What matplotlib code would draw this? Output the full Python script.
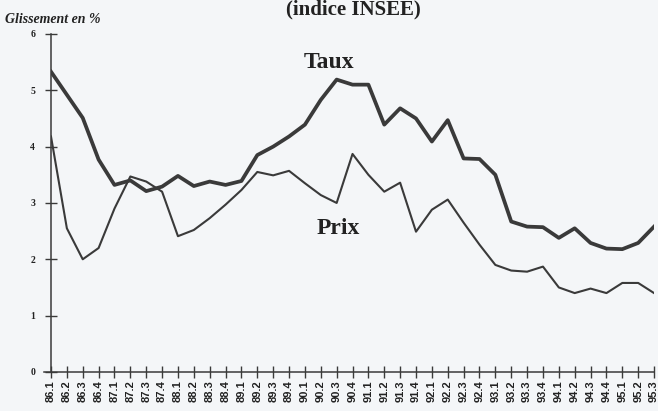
import matplotlib.pyplot as plt

# Trimestres 86.1 -> 95.3
quarters = [f"{y}.{q}" for y in range(86, 96) for q in range(1, 5)][:39]

taux = [5.33, 4.92, 4.51, 3.77, 3.32, 3.40, 3.21, 3.29, 3.48, 3.30,
        3.38, 3.32, 3.39, 3.85, 4.00, 4.18, 4.39, 4.83, 5.19, 5.10,
        5.10, 4.39, 4.68, 4.50, 4.09, 4.47, 3.79, 3.78, 3.50, 2.67,
        2.58, 2.57, 2.38, 2.55, 2.29, 2.19, 2.18, 2.29, 2.58]

prix = [4.18, 2.55, 2.00, 2.20, 2.90, 3.47, 3.38, 3.20, 2.41, 2.52,
        2.73, 2.97, 3.23, 3.55, 3.49, 3.57, 3.35, 3.14, 3.00, 3.87,
        3.50, 3.20, 3.36, 2.49, 2.88, 3.06, 2.65, 2.26, 1.90, 1.80,
        1.78, 1.87, 1.50, 1.40, 1.48, 1.40, 1.58, 1.58, 1.40]

bg = '#f4f6f8'
ink = '#3a3a3a'
txt = '#222222'

fig = plt.figure(figsize=(6.58, 4.11), dpi=100, facecolor=bg)
ax = fig.add_axes([0.0775, 0.095, 0.9165, 0.8224], facecolor=bg)

x = range(len(quarters))
ax.plot(x, taux, color=ink, lw=2.7)
ax.plot(x, prix, color=ink, lw=1.5)

ax.set_xlim(0, len(quarters) - 1)
ax.set_ylim(0, 6)
for s in ['top', 'right']:
    ax.spines[s].set_visible(False)
for s in ['left', 'bottom']:
    ax.spines[s].set_linewidth(1.1)
    ax.spines[s].set_color(ink)
ax.spines['bottom'].set_bounds(-0.45, len(quarters) - 1)

ax.set_xticks(list(x))
ax.set_xticklabels(quarters, rotation=90, fontsize=8, fontweight='bold',
                   family='Liberation Sans', color=txt)
ax.set_yticks(range(0, 7))
ax.set_yticklabels([str(v) for v in range(0, 7)], fontsize=7,
                   fontweight='bold', family='Liberation Serif', color=txt)
ax.tick_params(axis='x', direction='inout', length=8, width=1.0, color=ink, pad=2)
ax.tick_params(axis='y', direction='inout', length=9, width=1.0, color=ink, pad=7)

fig.text(0.007, 0.945, 'Glissement en %', fontsize=10, fontweight='bold',
         style='italic', family='Liberation Serif', color=txt)
fig.text(0.537, 0.978, '(indice INSEE)', fontsize=15, fontweight='bold',
         family='Liberation Serif', color=txt, ha='center', va='center')
ax.text(17.5, 5.5, 'Taux', fontsize=17, fontweight='bold',
        family='Liberation Serif', color=txt, ha='center', va='center')
ax.text(18.1, 2.54, 'Prix', fontsize=17, fontweight='bold',
        family='Liberation Serif', color=txt, ha='center', va='center')

fig.savefig('out.png', dpi=100, facecolor=bg)
